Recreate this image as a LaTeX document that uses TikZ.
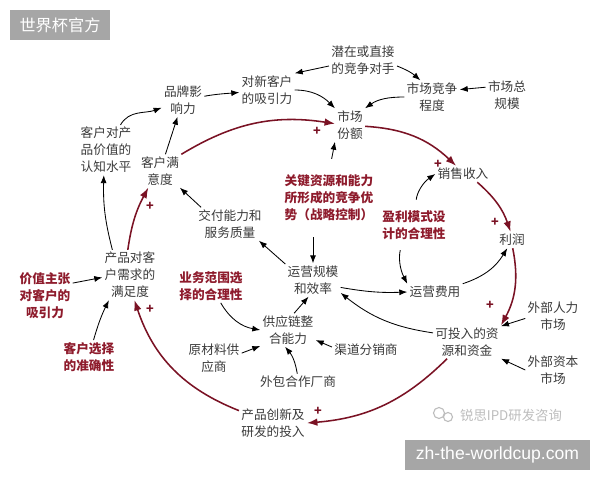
\documentclass[tikz,border=0pt]{standalone}
\usepackage{fontspec}
\setmainfont{Noto Sans CJK SC}
\newfontfamily\latinsans{Liberation Sans}
\usepackage{tikz}
\usetikzlibrary{arrows.meta}
\definecolor{InkGray}{HTML}{3A3A3A}
\definecolor{LoopRed}{HTML}{7A1224}
\definecolor{LeverRed}{HTML}{8E1B2C}
\definecolor{MarkGray}{HTML}{A6A6A6}
\definecolor{FaintGray}{HTML}{BDBDBD}

\begin{document}
\begin{tikzpicture}[x=0.025cm, y=-0.025cm,
  factor/.style={text=InkGray, align=center, inner sep=1.5pt, font=\fontsize{9}{12}\selectfont},
  lever/.style={text=LeverRed, align=center, inner sep=1.5pt, font=\fontsize{9}{12}\selectfont\bfseries},
  link/.style={-{Latex[length=2mm,width=1.5mm]}, line width=0.6pt, draw=black},
  loop/.style={-{Latex[length=2.6mm,width=1.9mm]}, line width=1.1pt, draw=LoopRed},
  plus/.style={text=LoopRed, inner sep=0pt, font=\fontsize{9}{9}\selectfont\bfseries},
  stamp/.style={fill=MarkGray, text=white, inner sep=0pt, minimum height=0.75cm}
]
\useasboundingbox (0,0) rectangle (600,480);

% market side
\node[factor] (rival) at (363,60) {潜在或直接\\的竞争对手};
\node[factor] (rivalry) at (432,97) {市场竞争\\程度};
\node[factor] (size) at (507,95) {市场总\\规模};
\node[factor] (share) at (350,125) {市场\\份额};
\node[factor] (attract) at (267,90) {对新客户\\的吸引力};
\node[factor] (brand) at (183,100) {品牌影\\响力};
\node[factor] (aware) at (106,150) {客户对产\\品价值的\\认知水平};
\node[factor] (satisf) at (160,171) {客户满\\意度};
\node[factor] (deliver) at (230,224) {交付能力和\\服务质量};
\node[factor] (fit) at (130,275) {产品对客\\户需求的\\满足度};

% design levers
\node[lever] (value) at (45,296) {价值主张\\对客户的\\吸引力};
\node[lever] (select) at (89,357) {客户选择\\的准确性};
\node[lever] (scope) at (211,286) {业务范围选\\择的合理性};
\node[lever] (control) at (329,198) {关键资源和能力\\所形成的竞争优\\势（战略控制）};
\node[lever] (model) at (414,225) {盈利模式设\\计的合理性};

% money and operations
\node[factor] (revenue) at (463,174) {销售收入};
\node[factor] (profit) at (512,240) {利润};
\node[factor] (ops) at (313,280) {运营规模\\和效率};
\node[factor] (cost) at (435,292) {运营费用};
\node[factor] (labor) at (553,316) {外部人力\\市场};
\node[factor] (funds) at (467,342) {可投入的资\\源和资金};
\node[factor] (capital) at (553,370) {外部资本\\市场};
\node[factor] (supply) at (288,330) {供应链整\\合能力};
\node[factor] (channel) at (366,350) {渠道分销商};
\node[factor] (material) at (214,358) {原材料供\\应商};
\node[factor] (outsrc) at (298,382) {外包合作厂商};
\node[factor] (rnd) at (273,423) {产品创新及\\研发的投入};

% thin links
\draw[link] (aware) to[out=60,in=200] (brand);
\draw[link] (brand) to[out=10,in=185] (attract);
\draw[link] (satisf) -- (brand);
\draw[link] (attract.east) to[out=0,in=135] (share.north west);
\draw[link] (rival.190) -- (attract.north east);
\draw[link] (rival.-10) to[bend left=10] (rivalry.125);
\draw[link] (rivalry.west) to[out=180,in=35] (share.north east);
\draw[link] (size.160) -- (rivalry.15);
\draw[link, shorten <=10pt] (control.north) -- (share.south west);
\draw[link, shorten <=10pt] (control.south -| ops.north) -- (ops.north);
\draw[link] (ops.150) -- (deliver.-30);
\draw[link] (deliver.150) -- (satisf.-40);
\draw[link] (fit.125) to[bend left=8] (aware.-95);
\draw[link] (value.25) -- (fit.185);
\draw[link] (select.75) to[bend left=5] (fit.-130);
\draw[link] (scope.-60) to[out=-60,in=170] (supply.west);
\draw[link] (material.10) -- (supply.-150);
\draw[link] (outsrc.95) to[bend right=15] (supply.-100);
\draw[link] (channel.175) -- (supply.-20);
\draw[link] (supply.70) -- (ops.-105);
\draw[link] (ops.-15) to[bend right=6] (cost.west);
\draw[link] (funds.165) to[bend left=15] (ops.-25);
\draw[link, shorten <=6pt] (model.85) to[bend left=25] (revenue.west);
\draw[link, shorten <=6pt] (model.-125) to[bend right=20] (cost.north west);
\draw[link] (cost.north east) to[bend right=20] (profit.-120);
\draw[link] (labor.185) -- (funds.25);
\draw[link] (capital.west) -- (funds.south east);

% reinforcing loop
\draw[loop] (satisf.north east) to[bend left=20] (share.175);
\draw[loop] (share.-5) to[bend left=20] (revenue.130);
\draw[loop] (revenue.-30) to[bend left=15] (profit.100);
\draw[loop] (profit.-85) to[bend left=20] (funds.north east);
\draw[loop] (funds.-140) to[bend left=20] (rnd.east);
\draw[loop] (rnd.160) to[bend left=25] (fit.-80);
\draw[loop] (fit.95) to[bend left=10] (satisf.-125);
\node[plus] (plusA) at (317,131) {+};
\node[plus] (plusB) at (438,164) {+};
\node[plus] (plusC) at (495,222) {+};
\node[plus] (plusD) at (490,305) {+};
\node[plus] (plusE) at (318,411) {+};
\node[plus] (plusF) at (150,309) {+};
\node[plus] (plusG) at (150,206) {+};

% marks
\node[stamp, minimum width=2.5cm, font=\fontsize{11.5}{12}\selectfont] (stampA) at (60,25) {世界杯官方};
\node[stamp, minimum width=4.625cm, font=\latinsans\fontsize{12.5}{13}\selectfont] (stampB) at (497.5,455) {zh-the-worldcup.com};
\node[text=FaintGray, inner sep=0pt, font=\fontsize{9.5}{10}\selectfont] (credit) at (511,415) {锐思IPD研发咨询};
\draw[FaintGray, line width=0.8pt] (439,413) circle (5.5);
\draw[FaintGray, line width=0.8pt] (448,417) circle (4.5);
\end{tikzpicture}
\end{document}
